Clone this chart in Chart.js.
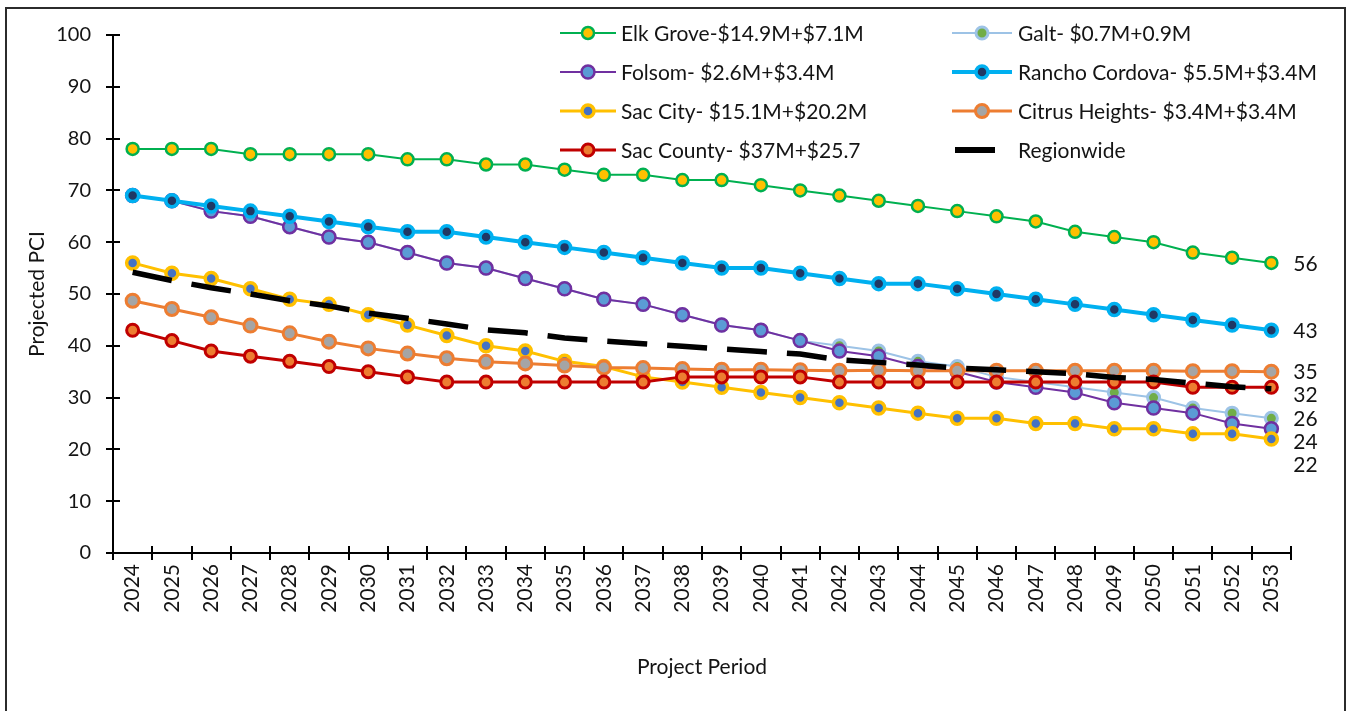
<!DOCTYPE html>
<html>
<head>
<meta charset="utf-8">
<title>Projected PCI</title>
<script src="https://cdn.jsdelivr.net/npm/chart.js@4.4.1/dist/chart.umd.min.js"></script>
<style>
  html, body { margin: 0; padding: 0; background: #fff; overflow: hidden; }
  #wrap { position: relative; width: 1349px; height: 711px; }
  #frame { position: absolute; left: 5px; top: 7px; width: 1337px; height: 720px; border: 2px solid #2b2b2b; pointer-events: none; }
</style>
</head>
<body>
<div id="wrap">
  <canvas id="pciChart"></canvas>
  <div id="frame"></div>
</div>
<script>
// Projected PCI by agency, 2024-2053
const years = ['2024', '2025', '2026', '2027', '2028', '2029', '2030', '2031', '2032', '2033',
               '2034', '2035', '2036', '2037', '2038', '2039', '2040', '2041', '2042', '2043',
               '2044', '2045', '2046', '2047', '2048', '2049', '2050', '2051', '2052', '2053'];

const elkGrove      = [78, 78, 78, 77, 77, 77, 77, 76, 76, 75, 75, 74, 73, 73, 72, 72, 71, 70, 69, 68, 67, 66, 65, 64, 62, 61, 60, 58, 57, 56];
const galt          = [69, 68, 66, 65, 63, 61, 60, 58, 56, 55, 53, 51, 49, 48, 46, 44, 43, 41, 40, 39, 37, 36, 34, 33, 32, 31, 30, 28, 27, 26];
const folsom        = [69, 68, 66, 65, 63, 61, 60, 58, 56, 55, 53, 51, 49, 48, 46, 44, 43, 41, 39, 38, 36, 35, 33, 32, 31, 29, 28, 27, 25, 24];
const ranchoCordova = [69, 68, 67, 66, 65, 64, 63, 62, 62, 61, 60, 59, 58, 57, 56, 55, 55, 54, 53, 52, 52, 51, 50, 49, 48, 47, 46, 45, 44, 43];
const sacCity       = [56, 54, 53, 51, 49, 48, 46, 44, 42, 40, 39, 37, 36, 34, 33, 32, 31, 30, 29, 28, 27, 26, 26, 25, 25, 24, 24, 23, 23, 22];
const citrusHeights = [48.7, 47.1, 45.5, 43.9, 42.4, 40.8, 39.5, 38.5, 37.6, 36.9, 36.6, 36.2, 35.8, 35.7, 35.5,
                       35.4, 35.4, 35.3, 35.2, 35.3, 35.2, 35.2, 35.2, 35.2, 35.2, 35.2, 35.2, 35.1, 35.1, 35];
const sacCounty     = [43, 41, 39, 38, 37, 36, 35, 34, 33, 33, 33, 33, 33, 33, 34, 34, 34, 34, 33, 33, 33, 33, 33, 33, 33, 33, 33, 32, 32, 32];
const regionwide    = [54.2, 52.6, 51.2, 50.0, 48.7, 47.7, 46.3, 45.3, 44.2, 43.1, 42.5, 41.5, 40.9, 40.4, 39.9,
                       39.4, 38.9, 38.4, 37.3, 36.8, 36.3, 35.7, 35.4, 35.0, 34.6, 33.9, 33.5, 32.8, 32.1, 31.7];

const yTicks = [0, 10, 20, 30, 40, 50, 60, 70, 80, 90, 100];

const FONT = 'Lato, "Open Sans", sans-serif';
const TEXT = '#141414';

// legend order = draw order (later series sit on top)
const series = [
  { label: 'Elk Grove-$14.9M+$7.1M',       data: elkGrove,      line: '#00B050', width: 2,   fill: '#FFC000', ring: '#00B050', ringWidth: 2.5, r: 6,   endLabel: true },
  { label: 'Galt- $0.7M+0.9M',             data: galt,          line: '#9DC3E6', width: 2,   fill: '#70AD47', ring: '#9DC3E6', ringWidth: 3,   r: 6,   endLabel: true },
  { label: 'Folsom- $2.6M+$3.4M',          data: folsom,        line: '#7030A0', width: 2,   fill: '#5B9BD5', ring: '#7030A0', ringWidth: 2.5, r: 6.5, endLabel: true },
  { label: 'Rancho Cordova- $5.5M+$3.4M',  data: ranchoCordova, line: '#00B0F0', width: 4,   fill: '#203864', ring: '#00B0F0', ringWidth: 3.5, r: 6,   endLabel: true },
  { label: 'Sac City- $15.1M+$20.2M',      data: sacCity,       line: '#FFC000', width: 3,   fill: '#4472C4', ring: '#FFC000', ringWidth: 3.5, r: 6,   endLabel: true },
  { label: 'Citrus Heights- $3.4M+$3.4M',  data: citrusHeights, line: '#ED7D31', width: 3,   fill: '#A5A5A5', ring: '#ED7D31', ringWidth: 3,   r: 6.5, endLabel: true },
  { label: 'Sac County- $37M+$25.7',       data: sacCounty,     line: '#C00000', width: 3,   fill: '#ED7D31', ring: '#C00000', ringWidth: 3,   r: 6,   endLabel: true },
  { label: 'Regionwide',                   data: regionwide,    line: '#000000', width: 5.5, dash: [40, 20], r: 0 }
];

// cross-style tick marks on both axes (Excel look)
const crossTicks = {
  id: 'crossTicks',
  beforeDatasetsDraw(chart) {
    const { ctx, scales: { x, y }, chartArea: area } = chart;
    ctx.save();
    ctx.strokeStyle = '#000';
    ctx.lineWidth = 2;
    ctx.beginPath();
    y.ticks.forEach(t => {
      const py = Math.round(y.getPixelForValue(t.value));
      ctx.moveTo(area.left - 7, py);
      ctx.lineTo(area.left + 7, py);
    });
    for (let i = 0; i <= years.length; i++) {
      const px = Math.round(x.getPixelForValue(i - 0.5));
      ctx.moveTo(px, area.bottom - 7);
      ctx.lineTo(px, area.bottom + 7);
    }
    ctx.stroke();
    ctx.restore();
  }
};

// last value of each agency to the right of the plot, pushed apart so they don't collide
const endLabels = {
  id: 'endLabels',
  afterDatasetsDraw(chart) {
    const { ctx, scales: { y } } = chart;
    const items = [];
    chart.data.datasets.forEach((ds, i) => {
      if (!ds.endLabel) return;
      const pts = chart.getDatasetMeta(i).data;
      const v = ds.data[ds.data.length - 1];
      items.push({ text: String(Math.round(v)), x: pts[pts.length - 1].x, y: y.getPixelForValue(v) });
    });
    items.sort((a, b) => a.y - b.y);
    for (let k = 1; k < items.length; k++) {
      items[k].y = Math.max(items[k].y, items[k - 1].y + 23);
    }
    ctx.save();
    ctx.font = '21px ' + FONT;
    ctx.fillStyle = TEXT;
    ctx.textAlign = 'left';
    ctx.textBaseline = 'middle';
    items.forEach(it => ctx.fillText(it.text, it.x + 22, it.y + 1));
    ctx.restore();
  }
};

// two-column legend laid over the top right of the plot
const legendBox = {
  id: 'legendBox',
  afterDraw(chart) {
    const { ctx } = chart;
    const cols = [{ x0: 560, x1: 616, text: 621 }, { x0: 952, x1: 1012, text: 1018 }];
    const rowTop = 33, rowGap = 39;
    ctx.save();
    ctx.font = '21px ' + FONT;
    ctx.textBaseline = 'middle';
    chart.data.datasets.forEach((ds, i) => {
      const c = cols[i % 2];
      const cy = rowTop + Math.floor(i / 2) * rowGap;
      ctx.strokeStyle = ds.borderColor;
      ctx.lineWidth = ds.borderWidth;
      ctx.setLineDash([]);
      ctx.beginPath();
      if (ds.pointRadius > 0) {
        ctx.moveTo(c.x0, cy);
        ctx.lineTo(c.x1, cy);
      } else {
        ctx.lineWidth = 6;
        ctx.moveTo(c.x0 + 3, cy);
        ctx.lineTo(c.x1 - 17, cy);
      }
      ctx.stroke();
      if (ds.pointRadius > 0) {
        ctx.beginPath();
        ctx.arc((c.x0 + c.x1) / 2, cy, ds.pointRadius, 0, Math.PI * 2);
        ctx.fillStyle = ds.pointBackgroundColor;
        ctx.fill();
        ctx.lineWidth = ds.pointBorderWidth;
        ctx.strokeStyle = ds.pointBorderColor;
        ctx.stroke();
      }
      ctx.fillStyle = TEXT;
      ctx.fillText(ds.label, c.text, cy + 1);
    });
    ctx.restore();
  }
};

const datasets = series.map((s, i) => ({
  label: s.label,
  data: s.data,
  borderColor: s.line,
  borderWidth: s.width,
  borderDash: s.dash || [],
  borderCapStyle: 'butt',
  pointRadius: s.r,
  pointHoverRadius: s.r,
  pointBackgroundColor: s.fill || s.line,
  pointBorderColor: s.ring || s.line,
  pointBorderWidth: s.ringWidth || 0,
  endLabel: !!s.endLabel,
  order: series.length - i,
  tension: 0,
  fill: false
}));

Chart.defaults.font.family = FONT;
Chart.defaults.color = TEXT;

new Chart(document.getElementById('pciChart'), {
  type: 'line',
  data: { labels: years, datasets: datasets },
  options: {
    responsive: true,
    maintainAspectRatio: false,
    animation: false,
    events: [],
    layout: { padding: { top: 35, right: 58, left: 0, bottom: 0 } },
    plugins: {
      legend: { display: false },
      tooltip: { enabled: false }
    },
    scales: {
      x: {
        type: 'category',
        offset: true,
        grid: { display: false, drawTicks: false },
        border: { display: true, color: '#000', width: 2 },
        ticks: { autoSkip: false, minRotation: 90, maxRotation: 90, padding: 11, font: { size: 21 }, color: TEXT },
        title: { display: true, text: 'Project Period', font: { size: 21 }, color: TEXT, padding: { top: 0, bottom: 31 } },
        afterFit: s => { s.height = 158; }
      },
      y: {
        min: 0,
        max: 100,
        grid: { display: false, drawTicks: false },
        border: { display: true, color: '#000', width: 2 },
        ticks: { stepSize: 10, padding: 22, font: { size: 20 }, color: TEXT },
        afterBuildTicks: s => { s.ticks = yTicks.map(v => ({ value: v })); },
        title: { display: true, text: 'Projected PCI', font: { size: 21 }, color: TEXT, padding: { top: 25, bottom: 0 } },
        afterFit: s => { s.width = 113; }
      }
    }
  },
  plugins: [crossTicks, endLabels, legendBox]
});
</script>
</body>
</html>
